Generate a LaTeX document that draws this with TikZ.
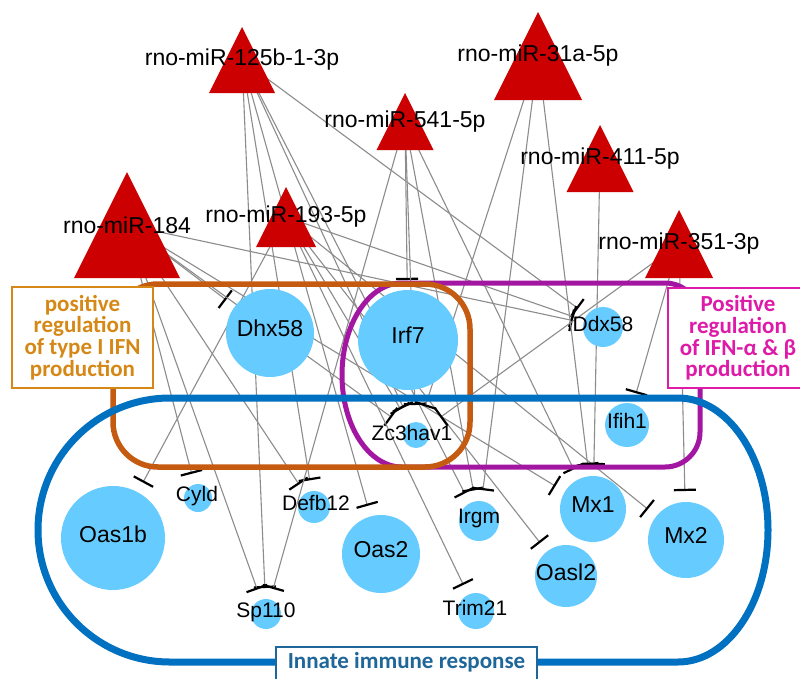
\documentclass[tikz,border=0pt]{standalone}
\usepackage{fontspec}
\setmainfont{Liberation Sans}
\newfontfamily\grpfont{Carlito}
\usetikzlibrary{arrows.meta}
\definecolor{mired}{RGB}{204,0,0}
\definecolor{nodeblue}{RGB}{102,204,255}
\definecolor{edgegray}{RGB}{140,140,140}
\definecolor{grporange}{RGB}{197,90,17}
\definecolor{grppurple}{RGB}{162,22,162}
\definecolor{grpblue}{RGB}{0,112,192}
\definecolor{txtorange}{RGB}{214,136,22}
\definecolor{txtmagenta}{RGB}{222,26,168}
\definecolor{txtblue}{RGB}{31,102,153}
\pgfdeclarelayer{bglayer}
\pgfdeclarelayer{edgelayer}
\pgfsetlayers{bglayer,edgelayer,main}
\newcommand\mirna[5]{%
  \fill[mired] (#2,#3) -- (#2-#4/2,#3+#4) -- (#2+#4/2,#3+#4) -- cycle;
  \node[mirlabel] (#1) at (#2,#3+#4/2) {#5};}
\begin{document}
\begin{tikzpicture}[x=1pt,y=-1pt,
  mirlabel/.style={font=\fontsize{23}{26}\selectfont, inner sep=0pt},
  gene/.style={circle, fill=nodeblue, inner sep=0pt, minimum size=#1, outer sep=11pt},
  biglabel/.style={font=\fontsize{23}{26}\selectfont, inner sep=0pt, text height=0.72em, text depth=0pt},
  smalllabel/.style={font=\fontsize{21}{24}\selectfont, inner sep=0pt, text height=0.72em, text depth=0pt},
  inhib/.style={draw=edgegray, line width=1.1pt, -{Bar[width=22pt,line width=2.2pt,black]}},
  grpline/.style={line width=#1, line join=round},
  grpbox/.style={font=\grpfont\bfseries\fontsize{23}{21.7}\selectfont, align=center, fill=white, line width=2.4pt, inner sep=0pt}
]
\clip (0,0) rectangle (800,678);
\begin{pgfonlayer}{bglayer}
\fill[white] (0,0) rectangle (800,678);
\end{pgfonlayer}

% miRNA triangles
\mirna{m125}{242}{27}{66}{rno-miR-125b-1-3p}
\mirna{m31}{538}{12}{88}{rno-miR-31a-5p}
\mirna{m541}{405}{93}{57}{rno-miR-541-5p}
\mirna{m411}{600}{125}{67}{rno-miR-411-5p}
\mirna{m184}{127}{172}{106}{rno-miR-184}
\mirna{m193}{286}{187}{60}{rno-miR-193-5p}
\mirna{m351}{679}{210}{68}{rno-miR-351-3p}

% genes
\node[gene=88pt] (dhx) at (270,333) {};
\node[biglabel] (dhxl) at (270,333) {Dhx58};
\node[gene=100pt, outer sep=10pt] (irf) at (408,340) {};
\node[biglabel] (irfl) at (408,340) {Irf7};
\node[gene=40pt] (ddx) at (603,327) {};
\node[smalllabel] (ddxl) at (603,328) {Ddx58};
\node[gene=44pt] (ifih) at (627,425) {};
\node[smalllabel] (ifihl) at (627,425) {Ifih1};
\node[gene=26pt, outer sep=17pt] (zc) at (416,435) {};
\node[smalllabel] (zcl) at (412,437) {Zc3hav1};
\node[gene=28pt] (cyld) at (198,498) {};
\node[smalllabel] (cyldl) at (197,498) {Cyld};
\node[gene=104pt] (oasb) at (113,538) {};
\node[biglabel] (oasbl) at (113,539) {Oas1b};
\node[gene=32pt] (defb) at (314,507) {};
\node[smalllabel] (defbl) at (316,507) {Defb12};
\node[gene=30pt] (sp) at (266,614) {};
\node[smalllabel] (spl) at (266,614) {Sp110};
\node[gene=78pt] (oas2) at (381,554) {};
\node[biglabel] (oas2l) at (381,554) {Oas2};
\node[gene=40pt] (irgm) at (479,521) {};
\node[smalllabel] (irgml) at (479,520) {Irgm};
\node[gene=36pt] (trim) at (476,611) {};
\node[smalllabel] (triml) at (475,612) {Trim21};
\node[gene=66pt] (mx1) at (593,509) {};
\node[biglabel] (mx1l) at (593,509) {Mx1};
\node[gene=62pt] (oasl) at (566,576) {};
\node[biglabel] (oasll) at (566,577) {Oasl2};
\node[gene=76pt] (mx2) at (686,540) {};
\node[biglabel] (mx2l) at (686,540) {Mx2};

% inhibitory edges
\begin{pgfonlayer}{edgelayer}
\foreach \s/\t in {m125/ddx, m125/sp, m125/defb, m125/oas2, m125/zc, m125/irgm,
  m184/dhx, m184/cyld, m184/sp, m184/zc, m184/mx1, m184/defb, m184/ddx,
  m193/oasb, m193/trim, m193/oasl, m193/mx2, m193/ddx, m193/zc,
  m541/irf, m541/zc, m541/sp, m541/irgm, m541/mx1,
  m31/zc, m31/irgm, m31/mx1,
  m411/mx1,
  m351/zc, m351/ifih, m351/mx2}
  \draw[inhib] (\s.center) -- (\t);
\end{pgfonlayer}

% group outlines
\draw[grpline=5pt, grppurple] (402,283) -- (665,283)
  arc[start angle=-90, end angle=0, radius=35] -- (700,432)
  arc[start angle=0, end angle=90, radius=35] -- (402,467)
  arc[start angle=90, end angle=270, x radius=60, y radius=92] -- cycle;
\draw[grpline=5.5pt, grporange, rounded corners=45pt] (113,284) rectangle (470,467);
\draw[grpline=7pt, grpblue] (170,398) -- (678,398)
  arc[start angle=-90, end angle=90, x radius=90, y radius=132] -- (170,662)
  arc[start angle=90, end angle=270, radius=132] -- cycle;

% group labels
\node[grpbox, draw=txtorange, text=txtorange, minimum width=141pt, minimum height=101pt] (lbor) at (82.5,337.5)
  {positive\\regulation\\of type I IFN\\production};
\node[grpbox, draw=txtmagenta, text=txtmagenta, minimum width=140pt, minimum height=100pt] (lbmg) at (738,338)
  {Positive\\regulation\\of IFN-α \& β\\production};
\node[grpbox, draw=txtblue, text=txtblue, minimum width=261pt, minimum height=50pt, anchor=north] (lbbl) at (406.5,646)
  {};
\node[font=\grpfont\bfseries\fontsize{23}{26}\selectfont, text=txtblue, inner sep=0pt] (lbblt) at (406.5,662) {Innate immune response};
\end{tikzpicture}
\end{document}
